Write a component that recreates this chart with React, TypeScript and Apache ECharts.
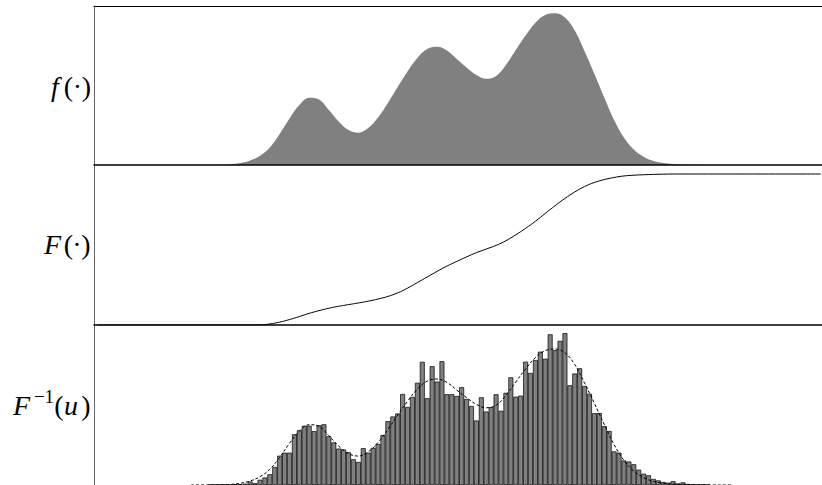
import React, { useEffect, useRef } from "react";
import * as echarts from "echarts";

// x positions are in bin units (one histogram bin = 1 unit)
const densityX = [20, 24, 26, 28, 30, 32, 34, 36, 38, 40, 42, 44, 46, 48, 50, 52, 54, 56, 58, 60, 62, 64, 66, 68, 70, 72, 74, 76, 78, 80, 82, 84, 86, 88, 90, 92, 94, 96, 98, 100, 102, 104, 106, 108, 110, 112, 114, 116, 118, 120, 122, 124, 130];
const densityY = [0, 0.05, 0.25, 0.6, 1.9, 4.5, 9.3, 17.5, 31, 46.5, 60, 67.3, 65.5, 55, 43.5, 35, 32.3, 37, 47.5, 62, 78, 93.5, 107, 116, 118.3, 114.5, 106, 97.5, 90, 86.2, 89, 100, 115, 129.5, 142.3, 150, 151.8, 147.5, 134.5, 113.7, 91, 67.5, 45, 27.5, 15.5, 8.2, 4, 2, 1, 0.5, 0.25, 0.1, 0];

const cdfX = [1, 30, 32, 34, 36, 38, 40, 42, 44, 46, 48, 50, 52, 54, 56, 58, 60, 62, 64, 66, 68, 70, 72, 74, 76, 78, 80, 82, 84, 86, 88, 90, 92, 94, 96, 98, 100, 102, 104, 106, 108, 110, 112, 116, 120, 130, 148];
const cdfY = [0, 0, 0, 0.0003, 0.007, 0.019, 0.036, 0.056, 0.077, 0.095, 0.111, 0.124, 0.135, 0.146, 0.158, 0.172, 0.189, 0.213, 0.244, 0.281, 0.318, 0.355, 0.39, 0.421, 0.451, 0.479, 0.503, 0.527, 0.558, 0.597, 0.64, 0.687, 0.739, 0.79, 0.838, 0.881, 0.917, 0.944, 0.963, 0.977, 0.987, 0.992, 0.995, 0.999, 1, 1, 1];

const binCenters = [
  24, 25, 26, 27, 28, 29, 30, 31, 32, 33, 34, 35, 36, 37, 38, 39, 40, 41, 42, 43,
  44, 45, 46, 47, 48, 49, 50, 51, 52, 53, 54, 55, 56, 57, 58, 59, 60, 61, 62, 63,
  64, 65, 66, 67, 68, 69, 70, 71, 72, 73, 74, 75, 76, 77, 78, 79, 80, 81, 82, 83,
  84, 85, 86, 87, 88, 89, 90, 91, 92, 93, 94, 95, 96, 97, 98, 99, 100, 101, 102, 103,
  104, 105, 106, 107, 108, 109, 110, 111, 112, 113, 114, 115, 116, 117, 118, 119, 120, 121, 122, 123,
  124, 125,
];
const binCounts = [
  0.3, 0.3, 0.5, 0.5, 0.3, 0.8, 0.8, 1.3, 3.5, 1.8, 5.2, 7.5, 10.7, 18, 29.3, 32.3, 32.3, 50.7, 54.7, 59.2,
  59.3, 53.8, 59.7, 60.7, 48.7, 42.5, 36.4, 35.5, 32.7, 25.7, 23, 36.8, 32.3, 37, 41, 50, 63.8, 68.5, 71.5, 91,
  78, 88, 102.2, 123.2, 86.8, 118.8, 103.4, 123.8, 90.8, 90.8, 89, 97.8, 86, 79, 64.5, 87.7, 73.5, 77.8, 90.7, 74.2,
  92.2, 107.7, 88.3, 89.3, 123.3, 112, 125, 133.3, 126.3, 150.7, 134.8, 144.2, 151.8, 99.7, 111.5, 116.7, 99, 91.3, 71.8, 72,
  59, 54, 33.6, 32.3, 24.5, 23.5, 20.7, 15.3, 11.3, 9.7, 6, 4.6, 3, 2.3, 3.8, 1.6, 2.6, 1, 0.8, 0.5,
  0.5, 0.3,
];

const X_MIN = 0.25;
const X_MAX = 148.27;

export default function App() {
  const ref = useRef<HTMLDivElement>(null);

  useEffect(() => {
    const chart = echarts.init(ref.current!, null, { renderer: "svg" });
    const pair = (xs: number[], ys: number[]) => xs.map((x, i) => [x, ys[i]]);
    const serif = "Liberation Serif, DejaVu Serif, serif";

    const glyph = (text: string, x: number, y: number, italic: boolean, size = 28) => ({
      type: "text",
      x,
      y,
      silent: true,
      style: {
        text,
        fill: "#000",
        fontFamily: serif,
        fontStyle: italic ? "italic" : "normal",
        fontSize: size,
        align: "center",
        verticalAlign: "middle",
      },
    });

    const hidden = {
      axisTick: { show: false },
      axisLabel: { show: false },
      splitLine: { show: false },
    };

    const xAxisBase = (gridIndex: number, position: string, show: boolean, width: number) => ({
      type: "value",
      gridIndex,
      position,
      min: X_MIN,
      max: X_MAX,
      z: 10,
      axisLine: { show, onZero: false, lineStyle: { color: "#000", width } },
      ...hidden,
    });

    const yAxisBase = (gridIndex: number, max: number) => ({
      type: "value",
      gridIndex,
      min: 0,
      max,
      z: 10,
      axisLine: { show: true, onZero: false, lineStyle: { color: "#666", width: 1 } },
      ...hidden,
    });

    chart.setOption({
      animation: false,
      backgroundColor: "#fff",
      grid: [
        { left: 94, top: 6, width: 733, height: 159 },
        { left: 94, top: 165, width: 733, height: 160 },
        { left: 94, top: 325, width: 733, height: 160 },
      ],
      xAxis: [
        xAxisBase(0, "bottom", true, 1.5),
        xAxisBase(0, "top", true, 1.2),
        xAxisBase(1, "bottom", true, 1.5),
        xAxisBase(2, "bottom", false, 1),
      ],
      yAxis: [
        yAxisBase(0, 159),
        yAxisBase(1, 1.0596),
        yAxisBase(2, 160),
        { ...yAxisBase(2, 178.6), show: false },
      ],
      series: [
        {
          type: "line",
          xAxisIndex: 0,
          yAxisIndex: 0,
          data: pair(densityX, densityY),
          smooth: 0.4,
          symbol: "none",
          lineStyle: { width: 0 },
          areaStyle: { color: "#808080", opacity: 1 },
        },
        {
          type: "line",
          xAxisIndex: 2,
          yAxisIndex: 1,
          data: pair(cdfX, cdfY),
          smooth: 0.4,
          symbol: "none",
          lineStyle: { color: "#000", width: 1 },
        },
        {
          type: "bar",
          xAxisIndex: 3,
          yAxisIndex: 2,
          data: pair(binCenters, binCounts),
          barWidth: "100%",
          itemStyle: { color: "#808080", borderColor: "#000", borderWidth: 0.7 },
        },
        {
          type: "line",
          xAxisIndex: 3,
          yAxisIndex: 3,
          data: pair(densityX, densityY),
          smooth: 0.4,
          symbol: "none",
          z: 5,
          lineStyle: { color: "#000", width: 1, type: [3, 2] },
        },
      ],
      graphic: [
        glyph("f", 55, 86.5, true),
        glyph("(", 68.5, 86.5, false),
        glyph("·", 77.5, 86.5, false),
        glyph(")", 86.3, 86.5, false),

        glyph("F", 52.5, 244.3, true),
        glyph("(", 68.5, 244.3, false),
        glyph("·", 77, 244.3, false),
        glyph(")", 86, 244.3, false),

        glyph("F", 21.5, 405.3, true),
        glyph("−1", 44, 396.5, false, 19),
        glyph("(", 59, 405.3, false),
        glyph("u", 71, 405.3, true),
        glyph(")", 86, 405.3, false),
      ],
    });

    return () => chart.dispose();
  }, []);

  return (
    <div
      ref={ref}
      style={{ position: "fixed", left: 0, top: 0, width: 822, height: 485, background: "#fff" }}
    />
  );
}
